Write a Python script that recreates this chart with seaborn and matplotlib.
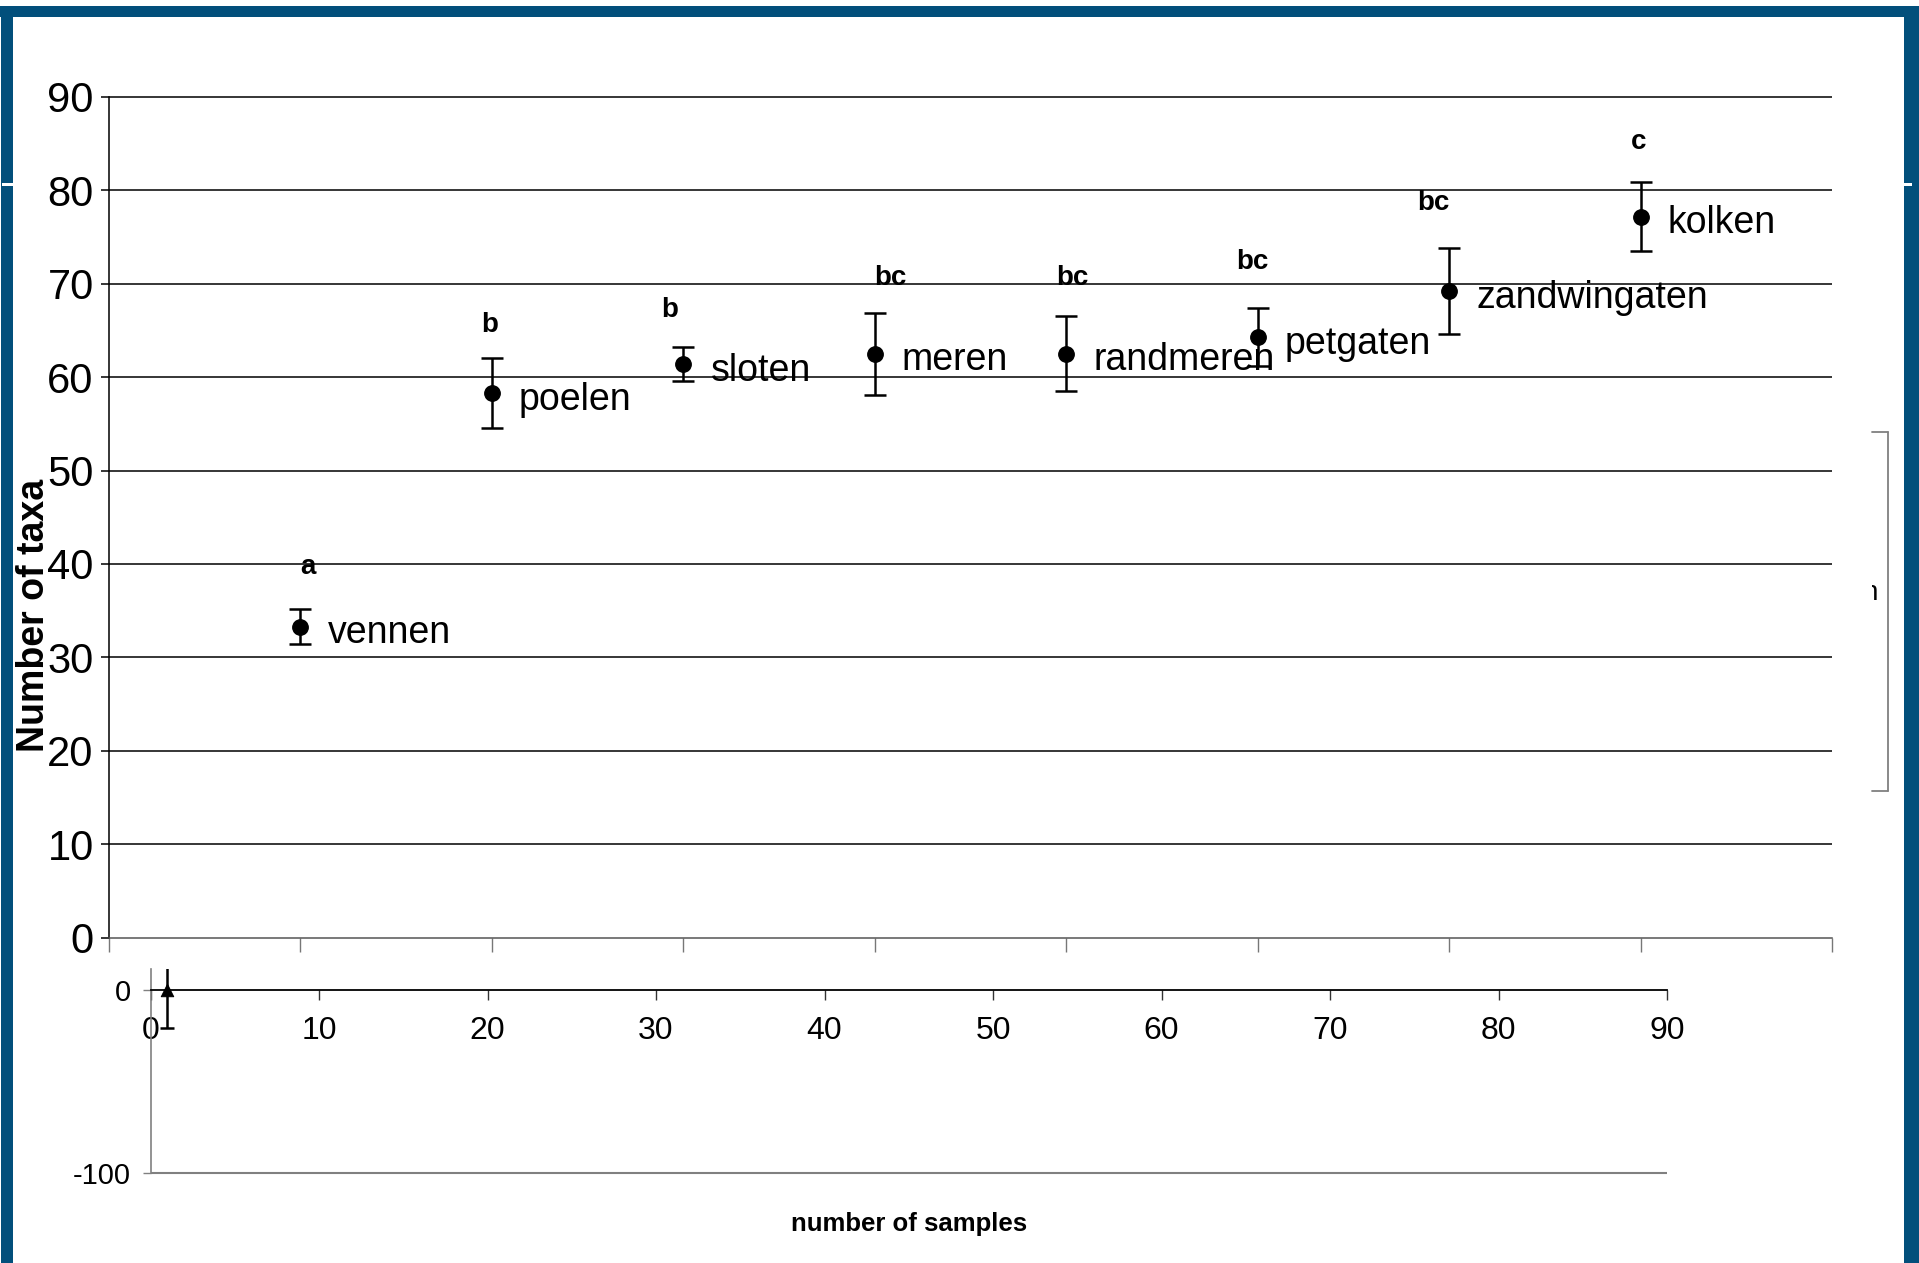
import matplotlib
matplotlib.use("Agg")
import numpy as np
import pandas as pd
import matplotlib.pyplot as plt
import seaborn as sns
from matplotlib.patches import Rectangle
from matplotlib.lines import Line2D
from matplotlib.transforms import Bbox
from matplotlib import font_manager

# ---- data -------------------------------------------------------------
habitats = ["vennen", "poelen", "sloten", "meren", "randmeren",
            "petgaten", "zandwingaten", "kolken"]
habitat_pos = [1, 2, 3, 4, 5, 6, 7, 8]
mean_taxa = [33.3, 58.3, 61.4, 62.5, 62.5, 64.3, 69.2, 77.2]
se_taxa = [1.9, 3.7, 1.8, 4.4, 4.0, 3.1, 4.6, 3.7]
group_letters = ["a", "b", "b", "bc", "bc", "bc", "bc", "c"]
letter_height = [39.7, 65.6, 67.2, 70.6, 70.6, 72.3, 78.7, 85.2]
letter_shift = [0.04, -0.01, -0.07, 0.08, 0.03, -0.03, -0.08, -0.01]

main_yticks = [0, 10, 20, 30, 40, 50, 60, 70, 80, 90]
main_xticks = [0, 1, 2, 3, 4, 5, 6, 7, 8, 9]

samples_x = [1]
samples_y = [0]
samples_err = [21]
sample_xticks = [0, 10, 20, 30, 40, 50, 60, 70, 80, 90]
sample_yticks = [-100, 0]

df = pd.DataFrame({"habitat": habitats, "pos": habitat_pos,
                   "mean": mean_taxa, "se": se_taxa})
df_s = pd.DataFrame({"n": samples_x, "taxa": samples_y, "err": samples_err})

# ---- style ------------------------------------------------------------
sns.set_theme(style="white")
plt.rcParams["font.family"] = ["Liberation Sans", "DejaVu Sans"]
plt.rcParams["text.color"] = "black"
plt.rcParams["xtick.labelcolor"] = "black"
plt.rcParams["ytick.labelcolor"] = "black"
avail = {f.name for f in font_manager.fontManager.ttflist}
if "Liberation Sans Narrow" in avail:
    narrow = "Liberation Sans Narrow"
    label_size = 31
else:
    narrow = "Liberation Sans"
    label_size = 27

W, H = 1919, 1263
DPI = 100
fig = plt.figure(figsize=(W / DPI, H / DPI), dpi=DPI, facecolor="white")


def fx(px):
    return px / W


def fy(py):
    return 1 - py / H


# ---- main panel -------------------------------------------------------
ax = fig.add_axes([fx(109), fy(937.5), fx(1832) - fx(109), fy(97) - fy(937.5)])
ax.set_facecolor("none")
ax.set_xlim(0, 9)
ax.set_ylim(0, 90)

ax.hlines(main_yticks[1:], 0, 9, colors="black", linewidth=1.1,
          clip_on=False, zorder=1)

ax.errorbar(df["pos"], df["mean"], yerr=df["se"], fmt="none",
            ecolor="black", elinewidth=1.8, capsize=8, capthick=1.8, zorder=3)
sns.scatterplot(data=df, x="pos", y="mean", ax=ax, color="black",
                edgecolor="black", s=125, marker="o", zorder=4, legend=False)

for xp, yv, name in zip(df["pos"], df["mean"], df["habitat"]):
    ax.annotate(name, (xp, yv), xytext=(19.5, -12), textcoords="offset points",
                ha="left", va="baseline", fontsize=label_size,
                family=[narrow, "DejaVu Sans"], color="black", zorder=5)

for xp, lh, sh, let in zip(habitat_pos, letter_height, letter_shift, group_letters):
    ax.text(xp + sh, lh, let, ha="center", va="center", fontsize=20,
            fontweight="bold", color="black", zorder=5)

for side in ["top", "right"]:
    ax.spines[side].set_visible(False)
ax.spines["left"].set_color("black")
ax.spines["left"].set_linewidth(1.1)
ax.spines["bottom"].set_color("#555555")
ax.spines["bottom"].set_linewidth(1.1)

ax.set_yticks(main_yticks)
ax.set_yticklabels([str(v) for v in main_yticks])
ax.set_xticks(main_xticks)
ax.set_xticklabels([])
ax.tick_params(axis="y", direction="out", length=6, width=1.1, color="black",
               labelcolor="black", labelsize=30, pad=5, left=True)
ax.tick_params(axis="x", direction="out", length=10, width=1.0, color="#777777",
               bottom=True)
ax.set_xlabel("")
ax.set_ylabel("")

fig.text(fx(34), fy(615), "Number of taxa", rotation=90, ha="center",
         va="center", fontsize=27, fontweight="bold", color="black")

# ---- sample-count panel ----------------------------------------------
ax2 = fig.add_axes([fx(150.5), fy(1172.5), fx(1667) - fx(150.5),
                    fy(969) - fy(1172.5)])
ax2.set_facecolor("none")
ax2.set_xlim(0, 90)
ax2.set_ylim(-100, 11.5)

ax2.errorbar(df_s["n"], df_s["taxa"], yerr=df_s["err"], fmt="none",
             ecolor="black", elinewidth=1.8, capsize=5, capthick=1.8, zorder=3)
sns.scatterplot(data=df_s, x="n", y="taxa", ax=ax2, marker="^", s=80,
                color="black", edgecolor="black", zorder=4, legend=False)

ax2.hlines(-100, 0, 90, colors="#808080", linewidth=1.5, clip_on=False)
ax2.spines["top"].set_visible(False)
ax2.spines["right"].set_visible(False)
ax2.spines["left"].set_color("#808080")
ax2.spines["left"].set_linewidth(1.2)
ax2.spines["bottom"].set_position(("data", 0))
ax2.spines["bottom"].set_color("black")
ax2.spines["bottom"].set_linewidth(1.3)

ax2.set_xticks(sample_xticks)
ax2.set_xticklabels([str(v) for v in sample_xticks], family=[narrow, "DejaVu Sans"])
ax2.set_yticks(sample_yticks)
ax2.set_yticklabels([str(v) for v in sample_yticks])
ax2.tick_params(axis="x", direction="out", length=7, width=1.0,
                color="#333333", labelcolor="black", labelsize=23, pad=12,
                bottom=True)
ax2.tick_params(axis="y", direction="out", length=6, width=1.0,
                color="#808080", labelcolor="black", labelsize=21, pad=8,
                left=True)
ax2.set_xlabel("")
ax2.set_ylabel("")

fig.text(fx(909), fy(1224), "number of samples", ha="center", va="center",
         fontsize=18.5, fontweight="bold", color="black")

# ---- page frame -------------------------------------------------------
blue = "#024F7B"


def box(x0, y0, x1, y1, color):
    fig.add_artist(Rectangle((fx(x0), fy(y1)), fx(x1) - fx(x0), fy(y0) - fy(y1),
                             transform=fig.transFigure, facecolor=color,
                             edgecolor="none", zorder=10))


box(0, 6, W, 17, blue)
box(1, 6, 13, H, blue)
box(1904, 6, W, H, blue)
box(2, 183, 13, 185.5, "white")
box(1904, 183, 1912, 185.5, "white")

# leftover legend frame at the right
grey = "#808080"
for (xa, ya, xb, yb) in [(1872, 432, 1888, 432), (1888, 432, 1888, 791),
                         (1872, 791, 1888, 791)]:
    fig.add_artist(Line2D([fx(xa), fx(xb)], [fy(ya), fy(yb)],
                          transform=fig.transFigure, color=grey, linewidth=1.3))
frag = fig.text(fx(1862), fy(600), "n", ha="left", va="baseline",
                fontsize=20, color="black")
frag.set_clip_box(Bbox.from_extents(1872, 0, 1900, H))
frag.set_clip_on(True)

fig.savefig("out.png", dpi=DPI, facecolor="white")
